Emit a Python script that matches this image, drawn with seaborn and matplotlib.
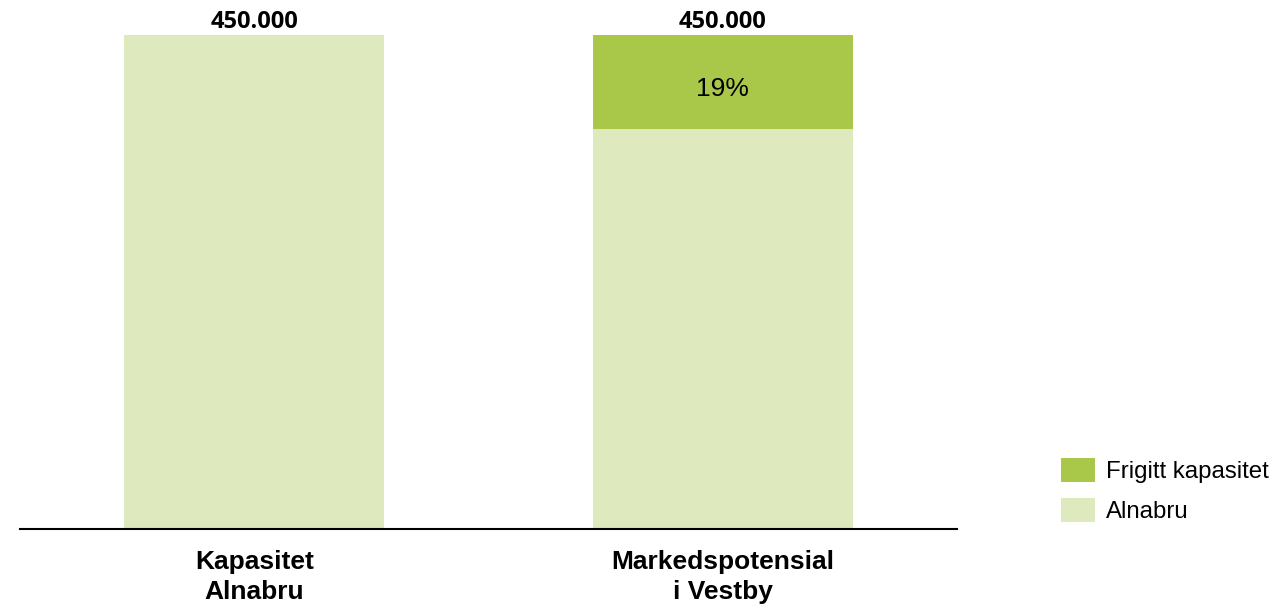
import matplotlib
matplotlib.use("Agg")
import matplotlib.pyplot as plt
import seaborn as sns
import pandas as pd
from matplotlib.patches import Patch

categories = ["Kapasitet\nAlnabru", "Markedspotensial\ni Vestby"]
alnabru = [450000, 364500]
frigitt = [0, 85500]
total_labels = ["450.000", "450.000"]
pct_labels = ["", "19%"]
legend_labels = ["Frigitt kapasitet", "Alnabru"]

c_dark = "#A9C84A"
c_light = "#DEE9BE"

sns.set_theme(style="white")
plt.rcParams['font.family'] = ['Liberation Sans', 'DejaVu Sans']
plt.rcParams['text.color'] = 'black'
plt.rcParams['xtick.color'] = 'black'
plt.rcParams['xtick.labelcolor'] = 'black'

fig = plt.figure(figsize=(12.88, 6.09), dpi=100)
ax = fig.add_axes([20/1288, 80/609, 937/1288, 494/609])

df = pd.DataFrame({"cat": categories, "alnabru": alnabru, "frigitt": frigitt})
df["total"] = df["alnabru"] + df["frigitt"]

sns.barplot(data=df, x="cat", y="total", color=c_dark, width=0.556,
            saturation=1, ax=ax, linewidth=0)
sns.barplot(data=df, x="cat", y="alnabru", color=c_light, width=0.556,
            saturation=1, ax=ax, linewidth=0)

ax.set_xlim(-0.5, 1.5)
ax.set_ylim(0, 450000)
ax.set_xlabel("")
ax.set_ylabel("")
ax.set_yticks([])
for s in ["top", "right", "left"]:
    ax.spines[s].set_visible(False)
ax.spines["bottom"].set_color("black")
ax.spines["bottom"].set_linewidth(1.5)
ax.tick_params(axis="x", length=0, pad=15)
for lab in ax.get_xticklabels():
    lab.set_fontweight("bold")
    lab.set_fontsize(19)
    lab.set_linespacing(1.35)
    lab.set_color("black")

for i, (t, tl) in enumerate(zip(df["total"], total_labels)):
    ax.text(i, t + 1200, tl, ha="center", va="bottom", fontsize=17,
            fontweight="bold", family=["Open Sans", "DejaVu Sans"],
            color="black", clip_on=False)

for i, (a, f, p) in enumerate(zip(alnabru, frigitt, pct_labels)):
    if p:
        ax.text(i, a + f / 2 - 6500, p, ha="center", va="center",
                fontsize=19, color="black")

handles = [Patch(facecolor=c_dark, edgecolor="none"), Patch(facecolor=c_light, edgecolor="none")]
fig.legend(handles, legend_labels, loc="upper left", bbox_to_anchor=(1061/1288, 1 - 458/609),
           frameon=False, fontsize=17.3, handlelength=1.42, handleheight=1.15,
           handletextpad=0.45, labelspacing=0.62, borderpad=0, borderaxespad=0,
           labelcolor="black")

fig.savefig("out.png", dpi=100)
